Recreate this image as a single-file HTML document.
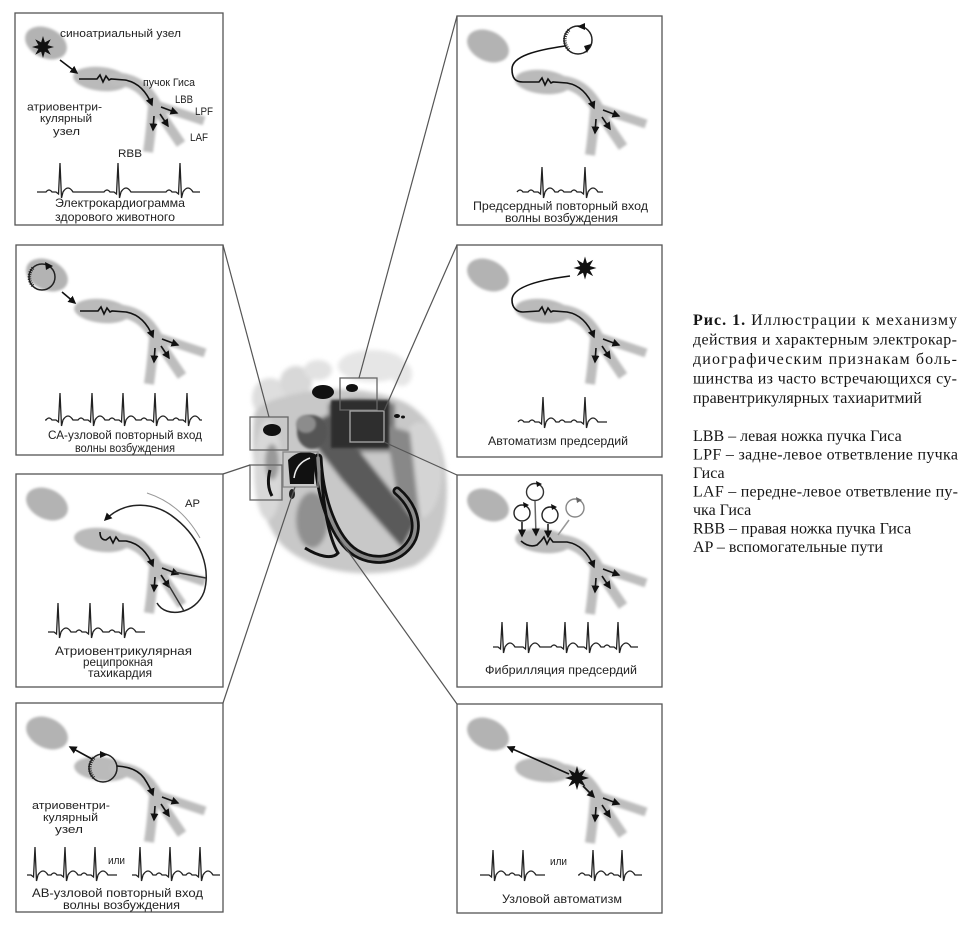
<!DOCTYPE html>
<html><head><meta charset="utf-8"><style>
html,body{margin:0;padding:0;background:#fff;}
svg{display:block;}
.t{font-family:"Liberation Sans",Arial,sans-serif;font-size:11px;fill:#222;}
.c{font-family:"Liberation Sans",Arial,sans-serif;font-size:12px;fill:#222;}
.s{font-family:"Liberation Serif","Times New Roman",serif;font-size:16px;fill:#151515;}
</style></head><body>
<svg width="970" height="928" viewBox="0 0 970 928" xmlns="http://www.w3.org/2000/svg">
<defs>
 <filter id="bl" x="-30%" y="-30%" width="160%" height="160%"><feGaussianBlur stdDeviation="1.4"/></filter>
 <filter id="hb" x="-20%" y="-20%" width="140%" height="140%"><feGaussianBlur stdDeviation="2"/></filter>
 <filter id="hb2" x="-20%" y="-20%" width="140%" height="140%"><feGaussianBlur stdDeviation="1.2"/></filter>
 <marker id="ah" markerUnits="userSpaceOnUse" markerWidth="10" markerHeight="10" refX="6.5" refY="4.5" orient="auto"><path d="M0,0.5 L8,4.5 L0,8.5 z" fill="#111"/></marker>
 <polygon id="star" points="10,0 4.16,1.72 7.07,7.07 1.72,4.16 0,10 -1.72,4.16 -7.07,7.07 -4.16,1.72 -10,0 -4.16,-1.72 -7.07,-7.07 -1.72,-4.16 0,-10 1.72,-4.16 7.07,-7.07 4.16,-1.72" fill="#111"/>
 <g id="blobs">
  <g filter="url(#bl)" fill="#bababa" stroke="#bdbdbd">
   <ellipse cx="31" cy="30" rx="22" ry="15" transform="rotate(25 31 30)" stroke="none" fill="#b3b3b3"/>
   <ellipse cx="86" cy="66" rx="28" ry="12" transform="rotate(6 86 66)" stroke="none"/>
   <path d="M100 66 Q126 66 140 92" fill="none" stroke-width="13" stroke-linecap="round"/>
   <path d="M138 91 L189 108" fill="none" stroke-width="9"/>
   <path d="M140 93 L166 131" fill="none" stroke-width="10"/>
   <path d="M138 93 Q136 118 133 139" fill="none" stroke-width="10"/>
  </g>
 </g>
 <g id="br" stroke="#111" stroke-width="1.6" fill="none">
  <path d="M146 94 L162 100" marker-end="url(#ah)"/>
  <path d="M145 101 L153 113" marker-end="url(#ah)"/>
  <path d="M139 103 L138 117" marker-end="url(#ah)"/>
 </g>
 <path id="ml" d="M64 66 L82 66 L85 62 L88 69 L91 63 L94 67 L96 66 L110 67 Q128 70 137 92" stroke="#111" stroke-width="1.6" fill="none" marker-end="url(#ah)"/>
</defs>

<!-- HEART -->
<g>
 <g filter="url(#hb)">
  <ellipse cx="270" cy="398" rx="18" ry="20" fill="#dedede"/>
  <ellipse cx="296" cy="382" rx="16" ry="16" fill="#d8d8d8"/>
  <ellipse cx="318" cy="370" rx="14" ry="10" fill="#e2e2e2"/>
  <ellipse cx="372" cy="366" rx="34" ry="16" fill="#e6e6e6"/>
  <ellipse cx="402" cy="374" rx="10" ry="12" fill="#e6e6e6"/>
  <path d="M254 415 C250 460 256 515 282 545 C312 574 372 580 414 566 C442 552 450 512 446 472 C443 440 430 418 408 404 C380 390 340 386 310 391 C282 396 258 402 254 415 Z" fill="#c8c8c8"/>
  <ellipse cx="420" cy="470" rx="22" ry="48" fill="#d4d4d4"/>
  <ellipse cx="268" cy="470" rx="14" ry="50" fill="#d8d8d8"/>
  <path d="M328 404 C340 397 375 397 395 404 L395 452 L330 452 Z" fill="#777"/>
  <path d="M302 428 L330 414 L416 522 L402 548 L342 480 Z" fill="#5a5a5a"/>
  <path d="M385 425 L410 432 L420 520 L398 500 Z" fill="#888"/>
  <ellipse cx="312" cy="520" rx="16" ry="28" fill="#909090"/>
  <ellipse cx="272" cy="462" rx="7" ry="18" fill="#999"/>
 </g>
 <rect x="331" y="400" width="58" height="48" fill="#2e2e2e" filter="url(#hb2)"/>
 <ellipse cx="312" cy="432" rx="15" ry="17" fill="#555" filter="url(#hb2)"/>
 <ellipse cx="306" cy="424" rx="10" ry="9" fill="#8c8c8c" filter="url(#hb2)"/>
 <ellipse cx="323" cy="392" rx="11" ry="7" fill="#111"/>
 <ellipse cx="352" cy="388" rx="6" ry="4" fill="#111"/>
 <ellipse cx="272" cy="430" rx="9" ry="6" fill="#111"/>
 <path d="M288 460 Q300 448 315 454 L314 484 L290 484 Z" fill="#111"/>
 <path d="M294 478 Q296 463 310 458" stroke="#eee" stroke-width="1.5" fill="none"/>
 <path d="M270 470 Q266 485 272 496" stroke="#111" stroke-width="3" fill="none"/>
 <ellipse cx="292" cy="494" rx="3" ry="5" fill="#222"/>
 <path d="M318 458 C320 500 335 540 356 553 C378 566 404 558 413 538 C420 520 410 502 397 491" stroke="#111" stroke-width="9" fill="none" stroke-linecap="round"/>
 <path d="M318 458 C320 500 335 540 356 553 C378 566 404 558 413 538 C420 520 410 502 397 491" stroke="#8a8a8a" stroke-width="3.5" fill="none" stroke-linecap="round"/>
 <path d="M322 470 C322 505 330 540 338 553 C332 560 318 556 305 548" stroke="#111" stroke-width="3" fill="none"/>
 <ellipse cx="397" cy="416" rx="3" ry="2" fill="#111"/>
 <ellipse cx="403" cy="417" rx="2" ry="1.5" fill="#111"/>
 <g fill="none" stroke-width="1.3">
  <rect x="340" y="378" width="37" height="32" stroke="#666"/>
  <rect x="350" y="411" width="34" height="31" stroke="#aaa"/>
  <rect x="250" y="417" width="38" height="33" stroke="#666"/>
  <rect x="250" y="465" width="32" height="35" stroke="#666"/>
  <rect x="283" y="452" width="35" height="35" stroke="#888"/>
 </g>
</g>

<!-- CONNECTORS -->
<g stroke="#555" stroke-width="1.2">
 <line x1="223" y1="245" x2="269" y2="417"/>
 <line x1="457" y1="16" x2="359" y2="378"/>
 <line x1="457" y1="245" x2="384" y2="411"/>
 <line x1="457" y1="475" x2="384" y2="442"/>
 <line x1="457" y1="704" x2="340" y2="540"/>
 <line x1="223" y1="474" x2="250" y2="465"/>
 <line x1="223" y1="703" x2="295" y2="487"/>
</g>

<!-- PANEL FRAMES -->
<g fill="#fff" stroke="#555" stroke-width="1.3">
 <rect x="15" y="13" width="208" height="212"/>
 <rect x="16" y="245" width="207" height="210"/>
 <rect x="16" y="474" width="207" height="213"/>
 <rect x="16" y="703" width="207" height="209"/>
 <rect x="457" y="16" width="205" height="209"/>
 <rect x="457" y="245" width="205" height="212"/>
 <rect x="457" y="475" width="205" height="212"/>
 <rect x="457" y="704" width="205" height="209"/>
</g>

<!-- P1 -->
<g transform="translate(15,13)">
 <use href="#blobs"/><use href="#br"/><use href="#ml"/>
 <use href="#star" transform="translate(28,34) scale(1.1)"/>
 <path d="M45 47 L62 60" stroke="#111" stroke-width="1.6" marker-end="url(#ah)"/>
 <path d="M22 179 L31 179 q3 -4 6 0 L41 179 l2.5 2 l1.5 -31 l1.5 35 l1.5 -6 q5 -8 10 0 L89 179 q3 -4 6 0 L99 179 l2.5 2 l1.5 -31 l1.5 35 l1.5 -6 q5 -8 10 0 L151 179 q3 -4 6 0 L161 179 l2.5 2 l1.5 -31 l1.5 35 l1.5 -6 q5 -8 10 0 L185 179" stroke="#222" stroke-width="1.3" fill="none"/>
</g>
<text class="t" x="60" y="37" textLength="121" lengthAdjust="spacingAndGlyphs">синоатриальный узел</text>
<text class="t" x="143" y="86" textLength="52" lengthAdjust="spacingAndGlyphs">пучок Гиса</text>
<text class="t" x="175" y="103" textLength="18" lengthAdjust="spacingAndGlyphs">LBB</text>
<text class="t" x="195" y="115" textLength="18" lengthAdjust="spacingAndGlyphs">LPF</text>
<text class="t" x="190" y="141" textLength="18" lengthAdjust="spacingAndGlyphs">LAF</text>
<text class="t" x="118" y="157" textLength="24" lengthAdjust="spacingAndGlyphs">RBB</text>
<text class="t" x="27" y="110.5" textLength="75" lengthAdjust="spacingAndGlyphs">атриовентри-</text>
<text class="t" x="40" y="122" textLength="52" lengthAdjust="spacingAndGlyphs">кулярный</text>
<text class="t" x="53" y="135" textLength="27" lengthAdjust="spacingAndGlyphs">узел</text>
<text class="c" x="55" y="207" textLength="130" lengthAdjust="spacingAndGlyphs">Электрокардиограмма</text>
<text class="c" x="55" y="221" textLength="120" lengthAdjust="spacingAndGlyphs">здорового животного</text>

<!-- P2 -->
<g transform="translate(16,245)">
 <use href="#blobs"/><use href="#br"/><use href="#ml"/>
 <circle cx="26" cy="32" r="13" stroke="#222" stroke-width="1.5" fill="none"/>
 <path d="M17 23 A13 13 0 0 0 17 41" stroke="#222" stroke-width="3.5" stroke-dasharray="1 1.3" fill="none"/>
 <path d="M29 17 L37 21 L30 25 Z" fill="#111"/>
 <path d="M46 47 L59 58" stroke="#111" stroke-width="1.6" marker-end="url(#ah)"/>
 <path d="M29 175 L30 175 q3 -4 6 0 L40 175 l2.5 2 l1.5 -29 l1.5 33 l1.5 -6 q5 -8 10 0 L62 175 q3 -4 6 0 L72 175 l2.5 2 l1.5 -29 l1.5 33 l1.5 -6 q5 -8 10 0 L93 175 q3 -4 6 0 L103 175 l2.5 2 l1.5 -29 l1.5 33 l1.5 -6 q5 -8 10 0 L125 175 q3 -4 6 0 L135 175 l2.5 2 l1.5 -29 l1.5 33 l1.5 -6 q5 -8 10 0 L157 175 q3 -4 6 0 L167 175 l2.5 2 l1.5 -29 l1.5 33 l1.5 -6 q5 -8 10 0 L186 175" stroke="#222" stroke-width="1.3" fill="none"/>
</g>
<text class="c" x="48" y="439" textLength="154" lengthAdjust="spacingAndGlyphs">СА-узловой повторный вход</text>
<text class="c" x="75" y="452" textLength="100" lengthAdjust="spacingAndGlyphs">волны возбуждения</text>

<!-- P3 -->
<g transform="translate(16,474)">
 <use href="#blobs"/><use href="#br"/>
 <path d="M84 58 Q84 66 90 66 L94 63 L97 69 L100 63 L103 67 L110 67 Q128 70 137 92" stroke="#111" stroke-width="1.6" fill="none" marker-end="url(#ah)"/>
 <path d="M141 129 C150 145 180 140 188 118 C195 95 185 65 160 45 C140 28 110 25 89 46" stroke="#222" stroke-width="1.5" fill="none" marker-end="url(#ah)"/>
 <path d="M158 98 L190 104" stroke="#333" stroke-width="1.4" fill="none"/>
 <path d="M152 110 L168 137" stroke="#333" stroke-width="1.4" fill="none"/>
 <path d="M131 19 Q165 30 184 64" stroke="#999" stroke-width="1" fill="none"/>
 <path d="M32 158 L38 158 l2.5 2 l1.5 -31 l1.5 35 l1.5 -6 q5 -8 10 0 L60 158 q3 -4 6 0 L70 158 l2.5 2 l1.5 -31 l1.5 35 l1.5 -6 q5 -8 10 0 L93 158 q3 -4 6 0 L103 158 l2.5 2 l1.5 -31 l1.5 35 l1.5 -6 q5 -8 10 0 L129 158" stroke="#222" stroke-width="1.3" fill="none"/>
</g>
<text class="t" x="185" y="507" textLength="15" lengthAdjust="spacingAndGlyphs">AP</text>
<text class="c" x="55" y="655" textLength="137" lengthAdjust="spacingAndGlyphs">Атриовентрикулярная</text>
<text class="c" x="83" y="666" textLength="70" lengthAdjust="spacingAndGlyphs">реципрокная</text>
<text class="c" x="88" y="677" textLength="64" lengthAdjust="spacingAndGlyphs">тахикардия</text>

<!-- P4 -->
<g transform="translate(16,703)">
 <use href="#blobs"/><use href="#br"/>
 <circle cx="87" cy="65" r="14" stroke="#222" stroke-width="1.5" fill="none"/>
 <path d="M78 55 A14 14 0 0 0 78 75" stroke="#222" stroke-width="3.5" stroke-dasharray="1 1.3" fill="none"/>
 <path d="M84 48 L92 51.5 L84 55 Z" fill="#111"/>
 <path d="M76 56 L54 44" stroke="#111" stroke-width="1.6" marker-end="url(#ah)"/>
 <path d="M101 63 Q120 64 128 75 Q134 84 137 92" stroke="#111" stroke-width="1.6" fill="none" marker-end="url(#ah)"/>
 <path d="M11 172 L15 172 l2.5 2 l1.5 -30 l1.5 34 l1.5 -6 q5 -8 10 0 L35 172 q3 -4 6 0 L45 172 l2.5 2 l1.5 -30 l1.5 34 l1.5 -6 q5 -8 10 0 L65 172 q3 -4 6 0 L75 172 l2.5 2 l1.5 -30 l1.5 34 l1.5 -6 q5 -8 10 0 L101 172" stroke="#222" stroke-width="1.3" fill="none"/>
 <path d="M116 172 L120 172 l2.5 2 l1.5 -30 l1.5 34 l1.5 -6 q5 -8 10 0 L140 172 q3 -4 6 0 L150 172 l2.5 2 l1.5 -30 l1.5 34 l1.5 -6 q5 -8 10 0 L170 172 q3 -4 6 0 L180 172 l2.5 2 l1.5 -30 l1.5 34 l1.5 -6 q5 -8 10 0 L204 172" stroke="#222" stroke-width="1.3" fill="none"/>
</g>
<text class="t" x="32" y="809" textLength="78" lengthAdjust="spacingAndGlyphs">атриовентри-</text>
<text class="t" x="43" y="821" textLength="55" lengthAdjust="spacingAndGlyphs">кулярный</text>
<text class="t" x="55" y="833" textLength="28" lengthAdjust="spacingAndGlyphs">узел</text>
<text class="t" x="108" y="864" textLength="17" lengthAdjust="spacingAndGlyphs">или</text>
<text class="c" x="32" y="897" textLength="171" lengthAdjust="spacingAndGlyphs">АВ-узловой повторный вход</text>
<text class="c" x="63" y="909" textLength="117" lengthAdjust="spacingAndGlyphs">волны возбуждения</text>

<!-- R1 -->
<g transform="translate(457,16)">
 <use href="#blobs"/><use href="#br"/>
 <circle cx="121" cy="24" r="14" stroke="#222" stroke-width="1.5" fill="none"/>
 <path d="M112 14 A14 14 0 0 0 112 34" stroke="#222" stroke-width="3.5" stroke-dasharray="1 1.3" fill="none"/>
 <path d="M128 7 L120 10.5 L128 14 Z" fill="#111"/>
 <path d="M134 28 L130 37 L127 30 Z" fill="#111"/>
 <path d="M108 30 C80 34 55 40 55 53 C55 62 58 66 66 66 L82 66 L85 62 L88 69 L91 63 L94 67 L96 66 L110 67 Q128 70 137 92" stroke="#111" stroke-width="1.6" fill="none" marker-end="url(#ah)"/>
 <path d="M60 176 q3 -4 6 0 L71 176 q3 -4 6 0 L81 176 l2.5 2 l1.5 -27 l1.5 31 l1.5 -6 q5 -8 10 0 L101 176 q3 -4 6 0 L114 176 q3 -4 6 0 L124 176 l2.5 2 l1.5 -27 l1.5 31 l1.5 -6 q5 -8 10 0 L146 176" stroke="#222" stroke-width="1.3" fill="none"/>
</g>
<text class="c" x="473" y="210" textLength="175" lengthAdjust="spacingAndGlyphs">Предсердный повторный вход</text>
<text class="c" x="505" y="222" textLength="113" lengthAdjust="spacingAndGlyphs">волны возбуждения</text>

<!-- R2 -->
<g transform="translate(457,245)">
 <use href="#blobs"/><use href="#br"/>
 <use href="#star" transform="translate(128,23) scale(1.15)"/>
 <path d="M113 31 C82 35 55 42 55 55 C55 63 60 67 66 67 L82 66 L85 62 L88 69 L91 63 L94 67 L96 66 L110 67 Q128 70 137 92" stroke="#111" stroke-width="1.6" fill="none" marker-end="url(#ah)"/>
 <path d="M61 177 q3 -4 6 0 L72 177 q3 -4 6 0 L82 177 l2.5 2 l1.5 -27 l1.5 31 l1.5 -6 q5 -8 10 0 L102 177 q3 -4 6 0 L114 177 q3 -4 6 0 L124 177 l2.5 2 l1.5 -27 l1.5 31 l1.5 -6 q5 -8 10 0 L150 177" stroke="#222" stroke-width="1.3" fill="none"/>
</g>
<text class="c" x="488" y="445" textLength="140" lengthAdjust="spacingAndGlyphs">Автоматизм предсердий</text>

<!-- R3 -->
<g transform="translate(457,475)">
 <use href="#blobs"/><use href="#br"/>
 <g fill="none" stroke-width="1.4">
  <circle cx="78" cy="17" r="8.5" stroke="#333"/>
  <circle cx="65" cy="38" r="8" stroke="#222"/>
  <circle cx="93" cy="40" r="8" stroke="#222"/>
  <circle cx="118" cy="33" r="9" stroke="#888"/>
 </g>
 <g fill="#111">
  <path d="M79 6 L85 9 L80 12 Z"/>
  <path d="M66 27 L72 30 L67 33 Z"/>
  <path d="M94 29 L100 32 L95 35 Z"/>
  <path d="M119 22 L125 25 L120 28 Z" fill="#666"/>
 </g>
 <path d="M65 47 L65 61" stroke="#111" stroke-width="1.5" marker-end="url(#ah)"/>
 <path d="M78 26 L79 60" stroke="#666" stroke-width="1.5" marker-end="url(#ah)"/>
 <path d="M91 49 L91 62" stroke="#111" stroke-width="1.5" marker-end="url(#ah)"/>
 <path d="M112 45 L101 60" stroke="#999" stroke-width="1.5"/>
 <path d="M64 66 Q72 73 80 70 L84 66 L87 62 L90 69 L93 63 L96 67 L110 67 Q128 70 137 92" stroke="#111" stroke-width="1.6" fill="none" marker-end="url(#ah)"/>
 <path d="M36 172 L41 172 l2.5 2 l1.5 -27 l1.5 31 l1.5 -6 q5 -8 10 0 L66 172 l2.5 2 l1.5 -27 l1.5 31 l1.5 -6 q5 -8 10 0 L94 172 q3 -4 6 0 L104 172 l2.5 2 l1.5 -27 l1.5 31 l1.5 -6 q5 -8 10 0 L127 172 l2.5 2 l1.5 -27 l1.5 31 l1.5 -6 q5 -8 10 0 L147 172 q3 -4 6 0 L157 172 l2.5 2 l1.5 -27 l1.5 31 l1.5 -6 q5 -8 10 0 L181 172" stroke="#222" stroke-width="1.3" fill="none"/>
</g>
<text class="c" x="485" y="674" textLength="152" lengthAdjust="spacingAndGlyphs">Фибрилляция предсердий</text>

<!-- R4 -->
<g transform="translate(457,704)">
 <use href="#blobs"/><use href="#br"/>
 <path d="M112 70 L51 43" stroke="#111" stroke-width="1.6" marker-end="url(#ah)"/>
 <use href="#star" transform="translate(120,74) scale(1.2)"/>
 <path d="M126 82 L137 93" stroke="#111" stroke-width="1.6" marker-end="url(#ah)"/>
 <path d="M23 171 L32 171 l2.5 2 l1.5 -27 l1.5 31 l1.5 -6 q5 -8 10 0 L52 171 q3 -4 6 0 L62 171 l2.5 2 l1.5 -27 l1.5 31 l1.5 -6 q5 -8 10 0 L88 171" stroke="#222" stroke-width="1.3" fill="none"/>
 <path d="M121 171 L122 171 q3 -4 6 0 L132 171 l2.5 2 l1.5 -27 l1.5 31 l1.5 -6 q5 -8 10 0 L151 171 q3 -4 6 0 L161 171 l2.5 2 l1.5 -27 l1.5 31 l1.5 -6 q5 -8 10 0 L185 171" stroke="#222" stroke-width="1.3" fill="none"/>
</g>
<text class="t" x="550" y="865" textLength="17" lengthAdjust="spacingAndGlyphs">или</text>
<text class="c" x="502" y="903" textLength="120" lengthAdjust="spacingAndGlyphs">Узловой автоматизм</text>

<!-- CAPTION -->
<text class="s" x="693" y="325" textLength="264" lengthAdjust="spacing"><tspan font-weight="bold">Рис. 1.</tspan> Иллюстрации к механизму</text>
<text class="s" x="693" y="344.5" textLength="264" lengthAdjust="spacing">действия и характерным электрокар-</text>
<text class="s" x="693" y="364" textLength="264" lengthAdjust="spacing">диографическим признакам боль-</text>
<text class="s" x="693" y="383.5" textLength="264" lengthAdjust="spacing">шинства из часто встречающихся су-</text>
<text class="s" x="693" y="403">правентрикулярных тахиаритмий</text>

<text class="s" x="693" y="441">LBB – левая ножка пучка Гиса</text>
<text class="s" x="693" y="459.5" textLength="265" lengthAdjust="spacing">LPF – задне-левое ответвление пучка</text>
<text class="s" x="693" y="478">Гиса</text>
<text class="s" x="693" y="496.5" textLength="265" lengthAdjust="spacing">LAF – передне-левое ответвление пу-</text>
<text class="s" x="693" y="515">чка Гиса</text>
<text class="s" x="693" y="533.5">RBB – правая ножка пучка Гиса</text>
<text class="s" x="693" y="552">AP – вспомогательные пути</text>
</svg>
</body></html>
